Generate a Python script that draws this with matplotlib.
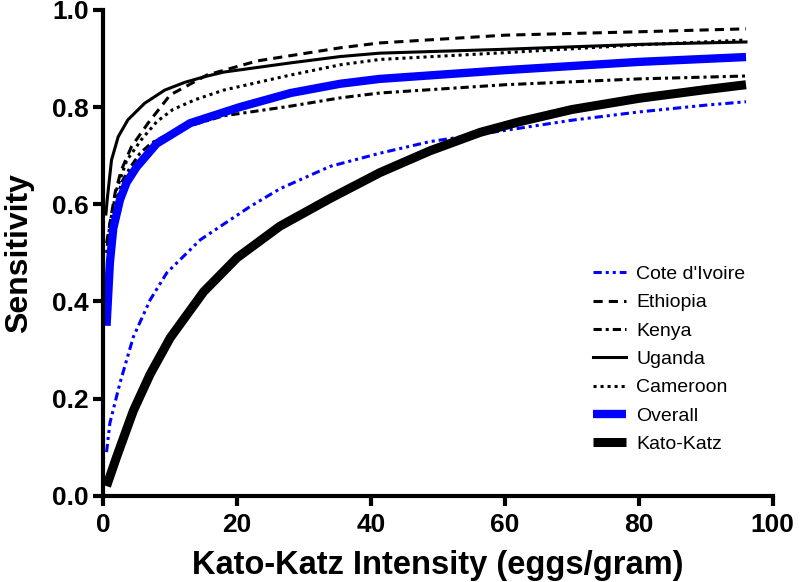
import matplotlib
matplotlib.use('Agg')
import matplotlib.pyplot as plt

plt.rcParams['font.family'] = ['Liberation Sans', 'DejaVu Sans']

# values
x_cote = [0.5, 1, 2.5, 4.5, 7, 9.5, 14.5, 21.9, 26.4, 33.9, 41.3, 48.8, 60, 70, 80, 90, 96]
y_cote = [0.09, 0.15, 0.232, 0.327, 0.403, 0.459, 0.527, 0.595, 0.632, 0.678, 0.705, 0.729, 0.752, 0.773, 0.79, 0.804, 0.811]

x_eth = [0.5, 1, 1.8, 2.7, 4.2, 6.7, 10, 15.5, 23, 35.4, 41.3, 60, 80, 96]
y_eth = [0.52, 0.56, 0.625, 0.67, 0.718, 0.767, 0.825, 0.866, 0.895, 0.922, 0.932, 0.948, 0.955, 0.961]

x_ken = [0.5, 1.2, 2, 2.7, 4, 5.5, 7.2, 9, 13, 18, 28, 35.4, 41.3, 60, 80, 96]
y_ken = [0.45, 0.512, 0.6, 0.644, 0.675, 0.705, 0.726, 0.739, 0.762, 0.782, 0.802, 0.819, 0.829, 0.846, 0.858, 0.864]

x_uga = [0.4, 0.6, 1.24, 2.24, 3.7, 6.2, 9.2, 12.2, 15, 18, 28, 35.4, 41.3, 60, 80, 96]
y_uga = [0.58, 0.61, 0.691, 0.739, 0.774, 0.808, 0.835, 0.851, 0.862, 0.872, 0.891, 0.904, 0.911, 0.919, 0.929, 0.934]

x_cam = [0.5, 1, 2, 3.5, 5.7, 8, 10.4, 13.7, 18, 28, 35.4, 41.3, 60, 80, 96]
y_cam = [0.5, 0.56, 0.63, 0.69, 0.733, 0.77, 0.795, 0.815, 0.835, 0.866, 0.887, 0.898, 0.912, 0.928, 0.938]

x_all = [0.5, 1, 1.5, 2.5, 3.5, 5, 8, 13, 20.4, 28, 35.4, 41.3, 60, 80, 96]
y_all = [0.35, 0.48, 0.55, 0.609, 0.645, 0.677, 0.725, 0.767, 0.80, 0.829, 0.848, 0.858, 0.876, 0.893, 0.903]

x_kk = [0.5, 2, 4.5, 7, 10, 15, 20, 26.4, 33.9, 41.3, 48.8, 56.3, 62.2, 70, 80, 90, 96]
y_kk = [0.02, 0.08, 0.175, 0.25, 0.325, 0.42, 0.49, 0.555, 0.612, 0.665, 0.71, 0.748, 0.77, 0.795, 0.818, 0.836, 0.846]

fig = plt.figure(figsize=(8, 5.82), dpi=100)
ax = fig.add_axes([0.129, 0.148, 0.837, 0.835])

thin = 2.2
ax.plot(x_cote, y_cote, color='#0000ff', lw=thin, dashes=(2.7, 1.3, 1, 1.3, 1, 1.3), label="Cote d'Ivoire")
ax.plot(x_eth, y_eth, color='black', lw=thin, dashes=(3, 2), label='Ethiopia')
ax.plot(x_ken, y_ken, color='black', lw=thin, dashes=(2.7, 1.3, 1, 1.3), label='Kenya')
ax.plot(x_uga, y_uga, color='black', lw=thin, label='Uganda')
ax.plot(x_cam, y_cam, color='black', lw=thin, dashes=(1, 1.3), label='Cameroon')
ax.plot(x_all, y_all, color='#0000ff', lw=6, solid_capstyle='butt', label='Overall')
ax.plot(x_kk, y_kk, color='black', lw=6.5, solid_capstyle='butt', label='Kato-Katz')

ax.set_xlim(0, 100)
ax.set_ylim(0, 1.0)
ax.set_xticks([0, 20, 40, 60, 80, 100])
ax.set_yticks([0.0, 0.2, 0.4, 0.6, 0.8, 1.0])
ax.set_yticklabels(['0.0', '0.2', '0.4', '0.6', '0.8', '1.0'])

for s in ['top', 'right']:
    ax.spines[s].set_visible(False)
for s in ['left', 'bottom']:
    ax.spines[s].set_linewidth(3)
ax.tick_params(direction='out', length=7, width=3, labelsize=19)
ax.tick_params(axis='y', pad=3.5)
ax.tick_params(axis='x', pad=5.5)
for lab in ax.get_xticklabels() + ax.get_yticklabels():
    lab.set_fontweight('bold')

ax.set_xlabel('Kato-Katz Intensity (eggs/gram)', fontsize=23.5, fontweight='bold', labelpad=9)
ax.set_ylabel('Sensitivity', fontsize=23, fontweight='bold', labelpad=13)

leg = ax.legend(loc='upper right', bbox_to_anchor=(0.971, 0.490), frameon=False, fontsize=14,
                handlelength=1.7, handletextpad=0.52, labelspacing=0.55, borderaxespad=0)

fig.savefig('out.png', dpi=100)
